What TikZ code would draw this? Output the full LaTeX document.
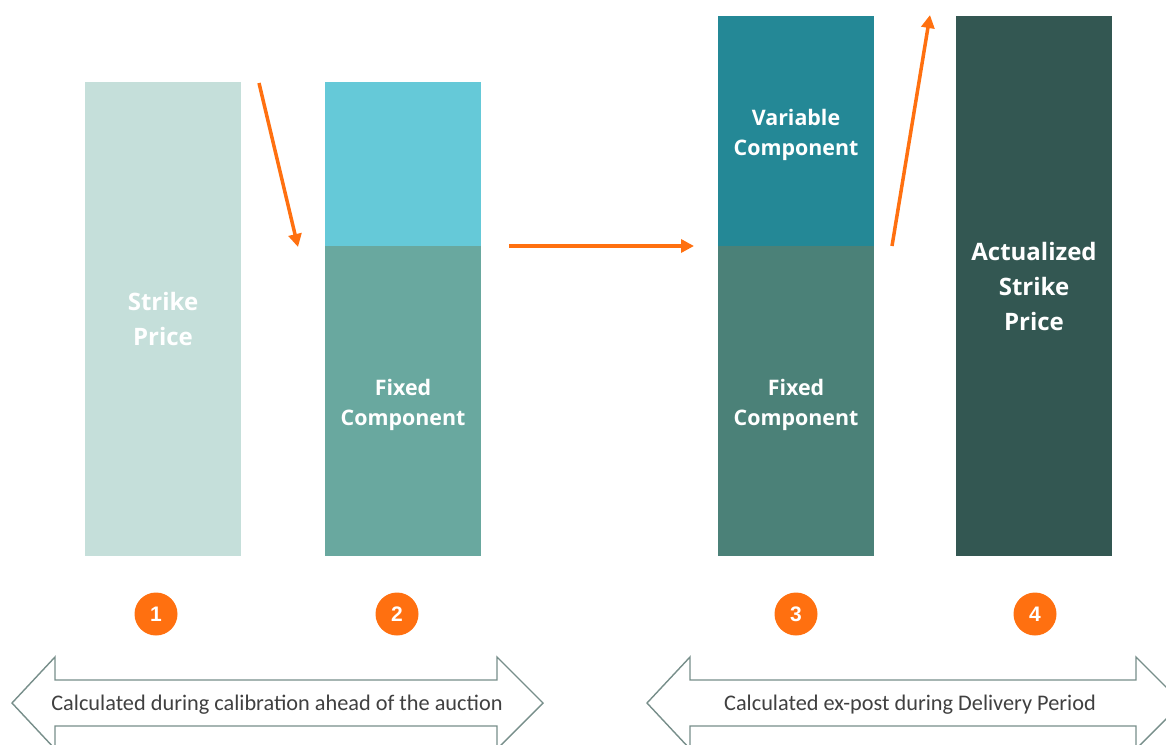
\documentclass[tikz,border=0pt]{standalone}
\usepackage{fontspec}
\setmainfont{Open Sans}
\newfontfamily\arrowfont{Carlito}
\newfontfamily\numfont{Liberation Sans}
\usetikzlibrary{arrows.meta}
\definecolor{barA}{HTML}{C5DFDA}
\definecolor{barBtop}{HTML}{65C9D8}
\definecolor{barBbot}{HTML}{69A89F}
\definecolor{barCtop}{HTML}{248896}
\definecolor{barCbot}{HTML}{4B8178}
\definecolor{barD}{HTML}{335752}
\definecolor{orng}{HTML}{FF7010}
\definecolor{frame}{HTML}{778E8A}
\definecolor{txt}{HTML}{404040}
\tikzset{
  bar/.style={anchor=north west, minimum width=156pt, inner sep=0pt, outer sep=0pt, text=white, align=center},
  bigtxt/.style={font=\fontsize{24}{35}\selectfont\bfseries},
  midtxt/.style={font=\fontsize{21.4}{30}\selectfont\bfseries},
  numc/.style={circle, fill=orng, minimum size=43pt, inner sep=0pt, text=white, font=\numfont\fontsize{21}{21}\selectfont\bfseries},
  flow/.style={draw=orng, line width=3.5pt, -{Triangle[length=13pt,width=13pt]}, shorten <=0pt},
  darrow/.style={draw=frame, line width=1.4pt, fill=white, line join=miter},
  atxt/.style={text=txt, font=\arrowfont\fontsize{22.3}{24}\selectfont, inner sep=0pt}
}
\begin{document}
\begin{tikzpicture}[x=1pt,y=-1pt]
\useasboundingbox (0,0) rectangle (1166,744);
\clip (0,0) rectangle (1166,744);
% bars
\node[bar, fill=barA, minimum height=474pt] (b1) at (85,82) {};
\node[bigtxt, text=white, align=center] (t1) at (163,319) {Strike\\Price};
\node[bar, fill=barBtop, minimum height=164pt] (b2t) at (325,82) {};
\node[bar, fill=barBbot, minimum height=310pt] (b2b) at (325,246) {};
\node[midtxt, text=white, align=center] (t2) at (403,405) {Fixed\\Component};
\node[bar, fill=barCtop, minimum height=230pt] (b3t) at (718,16) {};
\node[midtxt, text=white, align=center] (t3t) at (796,135) {Variable\\Component};
\node[bar, fill=barCbot, minimum height=310pt] (b3b) at (718,246) {};
\node[midtxt, text=white, align=center] (t3b) at (796,405) {Fixed\\Component};
\node[bar, fill=barD, minimum height=540pt] (b4) at (956,16) {};
\node[bigtxt, text=white, align=center] (t4) at (1034,286) {Actualized\\Strike\\Price};
% orange arrows
\coordinate (a1s) at (259,83);
\coordinate (a1e) at (298,247);
\coordinate (a2s) at (509,246);
\coordinate (a2e) at (694,246);
\coordinate (a3s) at (892,246);
\coordinate (a3e) at (930,15);
\draw[flow] (a1s) -- (a1e);
\draw[flow] (a2s) -- (a2e);
\draw[flow] (a3s) -- (a3e);
% numbers
\node[numc] (n1) at (156,614) {1};
\node[numc] (n2) at (397,614) {2};
\node[numc] (n3) at (796,614) {3};
\node[numc] (n4) at (1035,614) {4};
% double arrows
\draw[darrow] (12,703) -- (55,657) -- (55,680) -- (497,680) -- (497,657) -- (543,703) -- (497,749) -- (497,726) -- (55,726) -- (55,749) -- cycle;
\node[atxt] (l1) at (277,705) {Calculated during calibration ahead of the auction};
\draw[darrow] (647,703) -- (690,657) -- (690,680) -- (1136,680) -- (1136,657) -- (1182,703) -- (1136,749) -- (1136,726) -- (690,726) -- (690,749) -- cycle;
\node[atxt] (l2) at (910,705) {Calculated ex-post during Delivery Period};
\end{tikzpicture}
\end{document}
